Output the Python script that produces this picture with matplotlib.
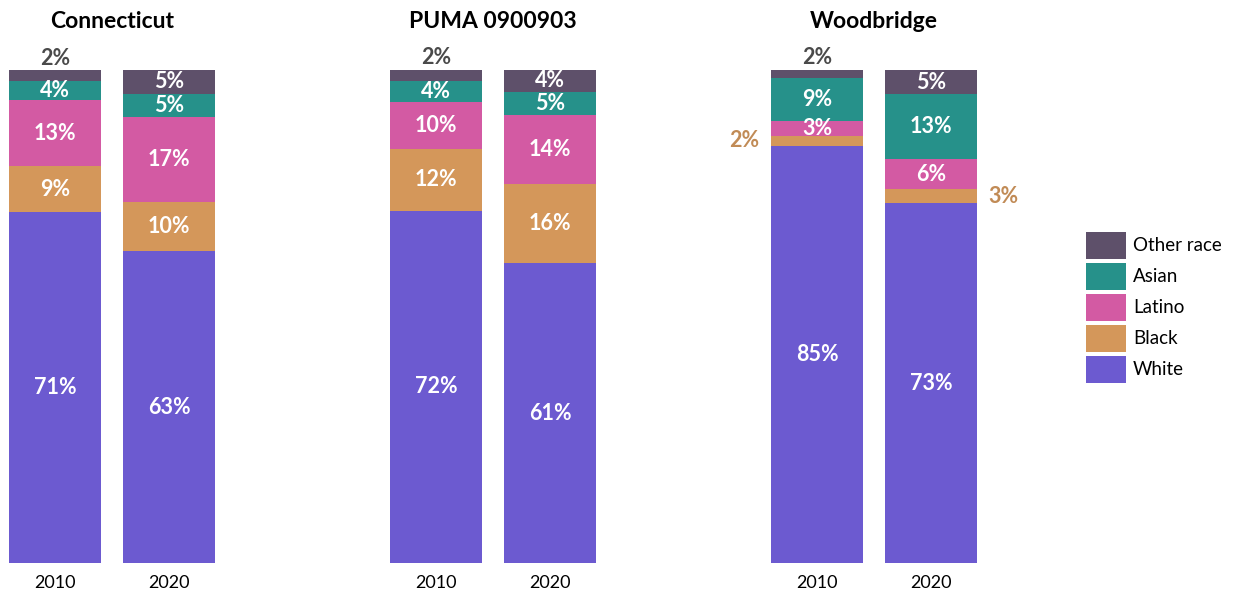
import matplotlib
matplotlib.use("Agg")
import matplotlib.pyplot as plt
from matplotlib.patches import Rectangle

plt.rcParams["font.family"] = ["Lato", "DejaVu Sans"]

# shares by facet, year order 2010, 2020
places = ["Connecticut", "PUMA 0900903", "Woodbridge"]
years = ["2010", "2020"]
groups = ["White", "Black", "Latino", "Asian", "Other race"]
white = [[71.1, 63.2], [71.5, 60.8], [84.6, 73.0]]
black = [[9.4, 10.0], [12.4, 16.0], [2.0, 2.8]]
latino = [[13.4, 17.2], [9.6, 14.0], [3.0, 6.1]]
asian = [[3.8, 4.8], [4.3, 4.8], [8.7, 13.2]]
other = [[2.2, 4.8], [2.2, 4.4], [1.8, 4.9]]

colors = {
    "White": "#6c5ad0",
    "Black": "#d4975a",
    "Latino": "#d35aa3",
    "Asian": "#26918a",
    "Other race": "#5e506a",
}

series = {"White": white, "Black": black, "Latino": latino,
          "Asian": asian, "Other race": other}

W, H = 1237, 594
fig = plt.figure(figsize=(W / 100, H / 100), dpi=100)

bar_w = 92 / 114
lefts = [9, 390, 771]
for i, place in enumerate(places):
    ax = fig.add_axes([lefts[i] / W, 31 / H, 206 / W, 493 / H])
    bottoms = [0.0, 0.0]
    for g in groups:
        vals = [series[g][i][0], series[g][i][1]]
        ax.bar([0, 1], vals, bottom=bottoms, width=bar_w, color=colors[g], linewidth=0)
        for j in range(2):
            v = vals[j]
            mid = bottoms[j] + v / 2
            lab = f"{v:.0f}%"
            if v >= 2.9:
                ax.text(j, mid, lab, ha="center", va="center", color="white",
                        fontsize=15.5, fontweight="bold")
            elif g == "Other race":
                ax.text(j, bottoms[j] + v + 0.4, lab, ha="center", va="bottom",
                        color="#4a4a4a", fontsize=15.5, fontweight="bold", clip_on=False)
            elif j == 0:
                ax.text(-bar_w / 2 - 0.1, mid, lab, ha="right", va="center",
                        color="#c18b56", fontsize=15.5, fontweight="bold", clip_on=False)
            else:
                ax.text(1 + bar_w / 2 + 0.1, mid, lab, ha="left", va="center",
                        color="#c18b56", fontsize=15.5, fontweight="bold", clip_on=False)
        bottoms = [bottoms[k] + vals[k] for k in range(2)]
    ax.set_xlim(-bar_w / 2, 1 + bar_w / 2)
    ax.set_ylim(0, 100)
    ax.set_xticks([0, 1])
    ax.set_xticklabels(years, fontsize=13)
    ax.tick_params(axis="x", length=0, pad=8.5)
    ax.set_yticks([])
    for s in ax.spines.values():
        s.set_visible(False)
    ax.set_title(place, fontsize=16.5, fontweight="bold", pad=30)

# legend, drawn by hand to match the box sizes
for k, g in enumerate(reversed(groups)):
    top = 232 + 31 * k
    fig.patches.append(Rectangle((1086 / W, 1 - (top + 27) / H), 40 / W, 27 / H,
                                 transform=fig.transFigure, facecolor=colors[g],
                                 edgecolor="none"))
    fig.text(1133 / W, 1 - (top + 13.5) / H, g, ha="left", va="center", fontsize=13.5)

fig.savefig("out.png", dpi=100)
